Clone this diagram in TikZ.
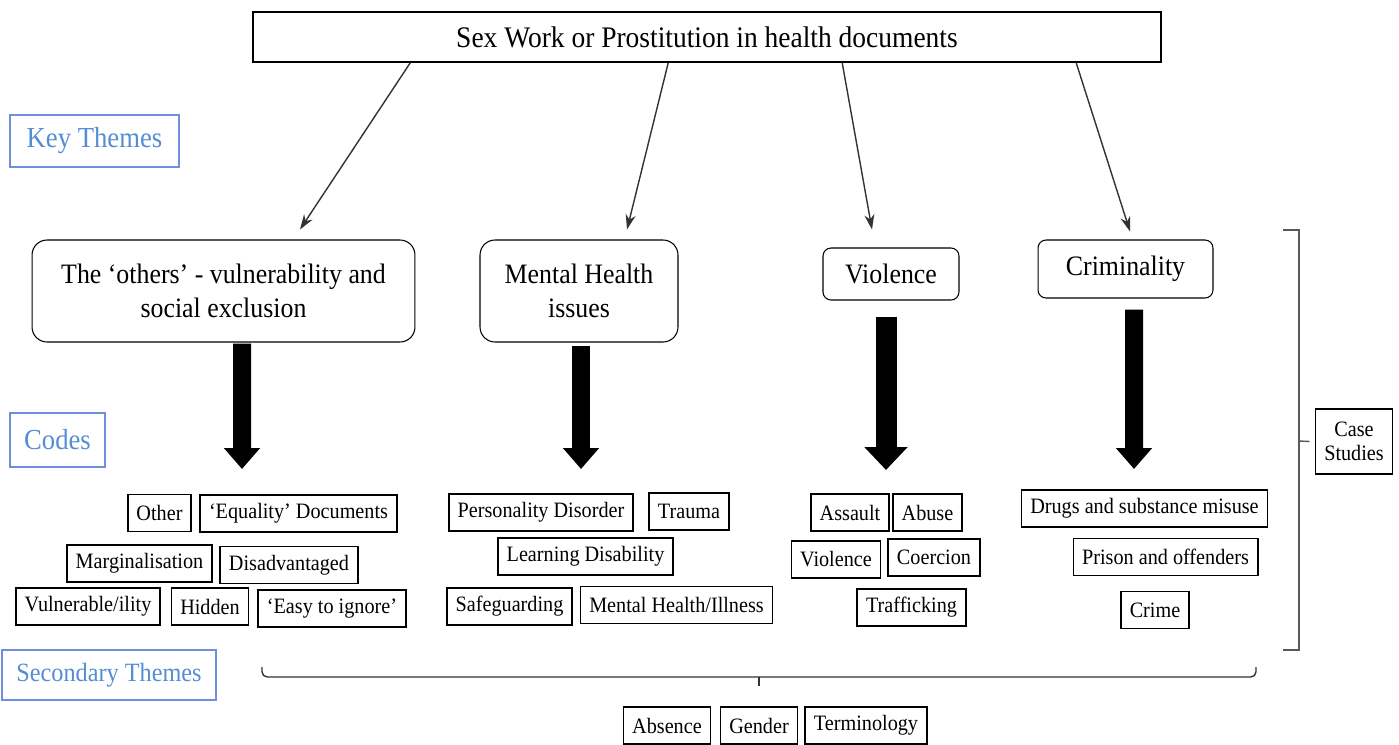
\documentclass[tikz,border=0pt]{standalone}
\usepackage{fontspec}
\setmainfont{Liberation Serif}[FakeStretch=0.92]
\usepackage{tikz}
\usetikzlibrary{positioning, arrows.meta, calc}
\definecolor{labelblue}{RGB}{84,141,212}
\definecolor{labelframe}{RGB}{111,143,222}

\begin{document}
\begin{tikzpicture}[
  x=0.02cm, y=-0.02cm,
  headbox/.style={rectangle, draw, line width=1pt, minimum width=18.16cm, minimum height=1cm, font=\fontsize{17}{20}\selectfont},
  theme/.style={rectangle, rounded corners=0.3cm, draw, semithick, align=center, font=\fontsize{16}{19}\selectfont},
  code/.style={rectangle, draw, line width=0.9pt, minimum height=0.74cm, inner xsep=5pt, font=\fontsize{12.5}{15}\selectfont},
  level/.style={rectangle, draw=labelframe, thick, text=labelblue, font=\fontsize{16.5}{20}\selectfont},
  thinarr/.style={-{Stealth[length=0.3cm, width=0.2cm]}, thick, draw=black!80},
  fatarr/.style={-{Triangle[length=0.42cm, width=0.7cm]}, line width=0.36cm},
  bracket/.style={thick, draw=black!65}
]
\useasboundingbox (0,0) rectangle (1399,744);

% heading and levels
\node[headbox] (head) at (707,37) {Sex Work or Prostitution in health documents};
\node[level, minimum width=3.38cm, minimum height=1.04cm] (keyth) at (94.5,141) {Key Themes};
\node[level, minimum width=1.9cm, minimum height=1.08cm] (codes) at (57.5,440) {Codes};
\node[level, minimum width=4.28cm, minimum height=1cm, font=\fontsize{15}{18}\selectfont] (secth) at (109,675) {Secondary Themes};

% key themes
\node[theme, minimum width=7.66cm, minimum height=2.04cm] (others) at (223.5,291) {The ‘others’ - vulnerability and\\social exclusion};
\node[theme, minimum width=3.96cm, minimum height=2.04cm] (mental) at (579,291) {Mental Health\\issues};
\node[theme, rounded corners=0.16cm, minimum width=2.72cm, minimum height=1.04cm] (viol) at (891,274) {Violence};
\node[theme, rounded corners=0.16cm, minimum width=3.5cm, minimum height=1.16cm] (crim) at (1125.5,269) {Criminality};

\draw[thinarr] ($(head.south west)+(158,0)$) -- ($(others.north)+(76.5,-10)$);
\draw[thinarr] ($(head.south west)+(416,0)$) -- ($(mental.north)+(48,-10)$);
\draw[thinarr] ($(head.south west)+(590,0)$) -- ($(viol.north)+(-19,-18)$);
\draw[thinarr] ($(head.south west)+(824,0)$) -- ($(crim.north)+(4.5,-8)$);

% codes
\coordinate (othersend) at (242,469);
\coordinate (mentalend) at (581,469);
\coordinate (violend) at (886,470);
\coordinate (crimend) at (1134,469);
\draw[fatarr] ($(others.south)+(18.5,1)$) -- (othersend);
\draw[fatarr] ($(mental.south)+(2,3)$) -- (mentalend);
\draw[fatarr, line width=0.42cm, -{Triangle[length=0.46cm, width=0.84cm]}] ($(viol.south)+(-5,16)$) -- (violend);
\draw[fatarr] ($(crim.south)+(8.5,11)$) -- (crimend);

\node[code] (other) at (159.5,513) {Other};
\node[code] (equal) at (298.5,513.5) {‘Equality’ Documents};
\node[code] (margin) at (139.5,563.5) {Marginalisation};
\node[code] (disadv) at (289,565) {Disadvantaged};
\node[code] (vulner) at (88,606.5) {Vulnerable/ility};
\node[code] (hidden) at (210,606.5) {Hidden};
\node[code] (easy) at (332,608.5) {‘Easy to ignore’};

\node[code] (person) at (541,512.5) {Personality Disorder};
\node[code] (trauma) at (689,511.5) {Trauma};
\node[code] (learn) at (585.5,556.5) {Learning Disability};
\node[code] (safe) at (509.5,606.5) {Safeguarding};
\node[code] (mhill) at (676.5,605) {Mental Health/Illness};

\node[code] (assault) at (850,512.5) {Assault};
\node[code] (abuse) at (927.5,512.5) {Abuse};
\node[code] (violc) at (836,559.5) {Violence};
\node[code] (coerc) at (934,557.5) {Coercion};
\node[code] (traff) at (911.5,607.5) {Trafficking};

\node[code] (drugs) at (1144.5,508.5) {Drugs and substance misuse};
\node[code] (prison) at (1165.5,557) {Prison and offenders};
\node[code] (crime) at (1155,610) {Crime};

% case studies
\node[code, align=center, minimum width=1.52cm, minimum height=1.3cm, font=\fontsize{12.5}{14}\selectfont] (case) at (1354,441.5) {Case\\Studies};
\draw[bracket] (1283,230) -- (1299,230) -- (1299,650) -- (1283,650);
\draw[bracket] (1299,441) -- ($(case.west)+(-5,0)$);

% secondary themes
\draw[bracket, draw=black!80, rounded corners=3] (262,667) -- (262,677) -- (1256,677) -- (1256,667);
\node[code] (absence) at (667,725.5) {Absence};
\node[code] (gender) at (759,725.5) {Gender};
\node[code] (termin) at (866,725.5) {Terminology};
\draw[bracket, draw=black!80] (759,677) -- ($(gender.north)+(0,-20)$);
\end{tikzpicture}
\end{document}
